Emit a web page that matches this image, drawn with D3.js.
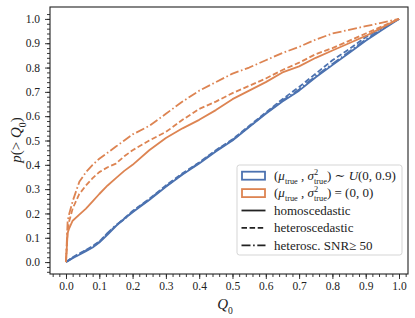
<!DOCTYPE html>
<html>
<head>
<meta charset="utf-8">
<script src="https://cdn.jsdelivr.net/npm/d3@7"></script>
<style>
  body { margin: 0; background: #fff; }
  svg { display: block; font-family: 'Liberation Serif', 'DejaVu Serif', serif; }
</style>
</head>
<body>
<div id="chart"></div>
<script>
const q0Grid = [0, 0.005, 0.01, 0.02, 0.04, 0.06, 0.08, 0.1, 0.125, 0.15, 0.175, 0.2, 0.25, 0.3,
  0.35, 0.4, 0.45, 0.5, 0.55, 0.6, 0.65, 0.7, 0.75, 0.8, 0.85, 0.9, 0.95, 1.0];

const uniformHomo = [0, 0.004, 0.008, 0.016, 0.03, 0.045, 0.06, 0.08, 0.113, 0.148, 0.178, 0.205,
  0.255, 0.31, 0.36, 0.405, 0.455, 0.5, 0.555, 0.61, 0.66, 0.705, 0.76, 0.81, 0.86, 0.91, 0.955, 1];
const uniformHetero = [0, 0.005, 0.01, 0.02, 0.035, 0.05, 0.066, 0.085, 0.118, 0.15, 0.18, 0.21,
  0.26, 0.315, 0.365, 0.41, 0.46, 0.505, 0.56, 0.615, 0.67, 0.72, 0.775, 0.83, 0.875, 0.925, 0.965, 1];
const uniformSnr = [0, 0.005, 0.009, 0.018, 0.033, 0.048, 0.063, 0.083, 0.12, 0.152, 0.176, 0.207,
  0.258, 0.312, 0.362, 0.408, 0.458, 0.502, 0.557, 0.612, 0.664, 0.71, 0.765, 0.815, 0.865, 0.915, 0.96, 1];

const zeroHomo = [0, 0.12, 0.14, 0.17, 0.195, 0.22, 0.25, 0.28, 0.315, 0.345, 0.375, 0.4,
  0.46, 0.51, 0.55, 0.585, 0.625, 0.67, 0.705, 0.74, 0.78, 0.805, 0.84, 0.87, 0.9, 0.93, 0.965, 1];
const zeroHetero = [0, 0.13, 0.17, 0.22, 0.28, 0.315, 0.345, 0.37, 0.39, 0.405, 0.435, 0.46,
  0.5, 0.535, 0.585, 0.63, 0.66, 0.695, 0.725, 0.755, 0.79, 0.82, 0.855, 0.88, 0.91, 0.94, 0.97, 1];
const zeroSnr = [0, 0.17, 0.2, 0.25, 0.33, 0.37, 0.4, 0.425, 0.45, 0.475, 0.5, 0.525,
  0.56, 0.61, 0.66, 0.705, 0.74, 0.775, 0.8, 0.83, 0.86, 0.885, 0.915, 0.94, 0.955, 0.97, 0.985, 1];

const majorTicks = [0, 0.1, 0.2, 0.3, 0.4, 0.5, 0.6, 0.7, 0.8, 0.9, 1.0];
const minorTicks = d3.range(-4, 103, 2).map(d => d / 100);

const width = 415,
  height = 318;
const frame = { left: 50, right: 408, top: 7, bottom: 274 };

const blue = '#4c72b0',
  orange = '#dd8452';

const styles = {
  homo: null,
  hetero: '5.5,2.6',
  snr: '9,2.6,1.6,2.6'
};

const series = [
  { values: uniformHomo, color: blue, dash: styles.homo },
  { values: uniformHetero, color: blue, dash: styles.hetero },
  { values: uniformSnr, color: blue, dash: styles.snr },
  { values: zeroHomo, color: orange, dash: styles.homo },
  { values: zeroHetero, color: orange, dash: styles.hetero },
  { values: zeroSnr, color: orange, dash: styles.snr }
];

const x = d3.scaleLinear().domain([-0.048, 1.027]).range([frame.left, frame.right]);
const y = d3.scaleLinear().domain([-0.049, 1.049]).range([frame.bottom, frame.top]);

const svg = d3.select('#chart').append('svg').attr('width', width).attr('height', height);

const line = d3
  .line()
  .x(d => x(d[0]))
  .y(d => y(d[1]));

svg
  .append('g')
  .selectAll('path')
  .data(series)
  .join('path')
  .attr('d', s => line(q0Grid.map((q, i) => [q, s.values[i]])))
  .attr('fill', 'none')
  .attr('stroke', s => s.color)
  .attr('stroke-width', 1.8)
  .attr('stroke-dasharray', s => s.dash)
  .attr('stroke-linejoin', 'round');

// axes
const fmt = d3.format('.1f');

function styleAxis(g) {
  g.select('.domain').remove();
  g.selectAll('line').attr('stroke', '#222').attr('stroke-width', 0.9);
  g.selectAll('text')
    .attr('font-family', "'Liberation Serif', serif")
    .attr('font-size', 11.5)
    .attr('fill', '#222');
}

svg
  .append('g')
  .attr('transform', `translate(0,${frame.bottom})`)
  .call(d3.axisBottom(x).tickValues(minorTicks).tickSize(3).tickFormat(''))
  .call(styleAxis);
svg
  .append('g')
  .attr('transform', `translate(0,${frame.bottom})`)
  .call(d3.axisBottom(x).tickValues(majorTicks).tickSize(5).tickPadding(3).tickFormat(fmt))
  .call(styleAxis);

svg
  .append('g')
  .attr('transform', `translate(${frame.left},0)`)
  .call(d3.axisLeft(y).tickValues(minorTicks).tickSize(3).tickFormat(''))
  .call(styleAxis);
svg
  .append('g')
  .attr('transform', `translate(${frame.left},0)`)
  .call(d3.axisLeft(y).tickValues(majorTicks).tickSize(5).tickPadding(5).tickFormat(fmt))
  .call(styleAxis);

svg
  .append('rect')
  .attr('x', frame.left)
  .attr('y', frame.top)
  .attr('width', frame.right - frame.left)
  .attr('height', frame.bottom - frame.top)
  .attr('fill', 'none')
  .attr('stroke', '#222')
  .attr('stroke-width', 1.1);

// math-ish text made of tspans: kind n = upright, i = italic, sub, sup
function mathText(sel, pieces, size) {
  let offset = 0;
  pieces.forEach(([str, kind, dx]) => {
    const target = kind === 'sub' ? size * 0.3 : kind === 'sup' ? -size * 0.38 : 0;
    const small = kind === 'sub' || kind === 'sup';
    sel
      .append('tspan')
      .attr('dy', target - offset)
      .attr('dx', dx || 0)
      .attr('font-size', small ? size * 0.64 : size)
      .attr('font-style', kind === 'i' ? 'italic' : 'normal')
      .text(str);
    offset = target;
  });
}

const xLabel = svg
  .append('text')
  .attr('x', 225)
  .attr('y', 309)
  .attr('text-anchor', 'middle')
  .attr('fill', '#222');
mathText(xLabel, [['Q', 'i'], ['0', 'sub']], 15);

const yLabel = svg
  .append('text')
  .attr('transform', 'translate(21,140) rotate(-90)')
  .attr('text-anchor', 'middle')
  .attr('fill', '#222');
mathText(yLabel, [['p', 'i'], ['(> ', 'n'], ['Q', 'i'], ['0', 'sub'], [')', 'n']], 15);

// legend
const legend = svg.append('g').attr('transform', 'translate(237,165)');

legend
  .append('rect')
  .attr('width', 165)
  .attr('height', 90)
  .attr('rx', 2.5)
  .attr('fill', 'rgba(255,255,255,0.85)')
  .attr('stroke', '#d0d0d0')
  .attr('stroke-width', 0.9);

const fs = 13;
const sigmaPart = [['(', 'n'], ['μ', 'i'], ['true', 'sub'], [' , ', 'n'], ['σ', 'i'],
  ['2', 'sup'], ['true', 'sub', -4.2], [')', 'n']];
const legendRows = [
  { kind: 'patch', color: blue, pieces: sigmaPart.concat([[' ∼ ', 'n'], ['U', 'i'], ['(0, 0.9)', 'n']]) },
  { kind: 'patch', color: orange, pieces: sigmaPart.concat([[' = (0, 0)', 'n']]) },
  { kind: 'line', dash: styles.homo, pieces: [['homoscedastic', 'n']] },
  { kind: 'line', dash: styles.hetero, pieces: [['heteroscedastic', 'n']] },
  { kind: 'line', dash: styles.snr, pieces: [['heterosc. SNR', 'n'], ['≥', 'n'], [' 50', 'n']] }
];

legendRows.forEach((row, i) => {
  const cy = 10.7 + i * 17.4;
  if (row.kind === 'patch') {
    legend
      .append('rect')
      .attr('x', 5)
      .attr('y', cy - 4)
      .attr('width', 23)
      .attr('height', 8)
      .attr('fill', 'none')
      .attr('stroke', row.color)
      .attr('stroke-width', 1.8);
  } else {
    legend
      .append('line')
      .attr('x1', 4.5)
      .attr('x2', 28.5)
      .attr('y1', cy)
      .attr('y2', cy)
      .attr('stroke', '#222')
      .attr('stroke-width', 1.8)
      .attr('stroke-dasharray', row.dash);
  }
  const t = legend
    .append('text')
    .attr('x', 37)
    .attr('y', cy + 4.2)
    .attr('fill', '#222');
  mathText(t, row.pieces, fs);
});
</script>
</body>
</html>
